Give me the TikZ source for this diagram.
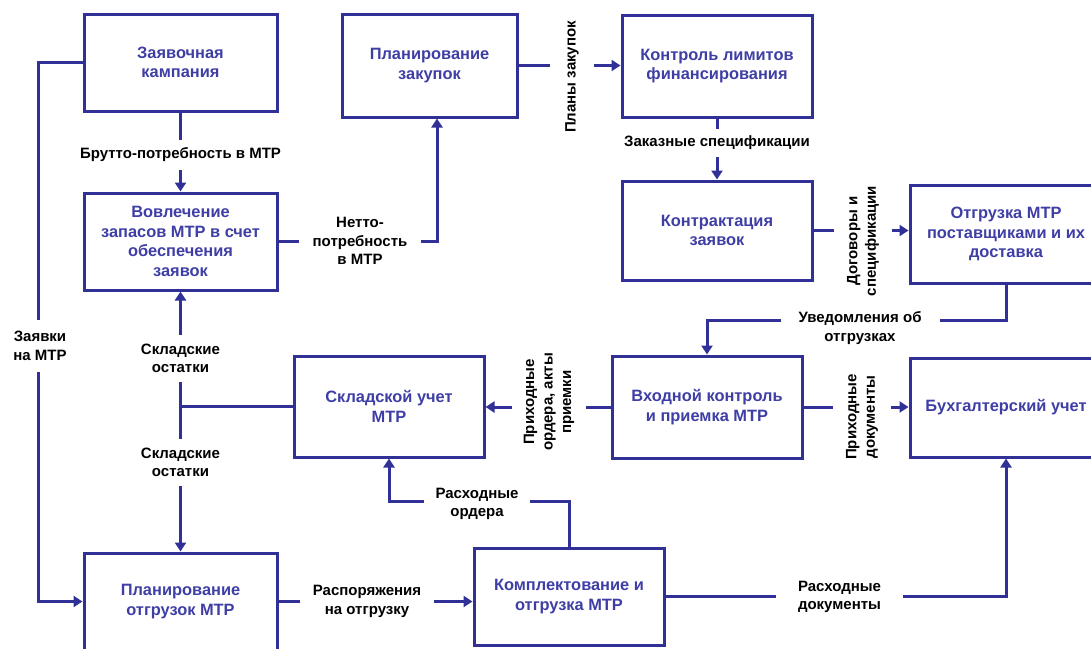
\documentclass[tikz,border=0pt]{standalone}
\usepackage{fontspec}
\setmainfont{Liberation Sans}
\usetikzlibrary{arrows.meta}
\definecolor{lineblue}{RGB}{48,48,150}
\definecolor{textblue}{RGB}{62,62,165}
\begin{document}
\begin{tikzpicture}[x=1pt,y=-1pt,
  box/.style={draw=lineblue, line width=3pt, rectangle, align=center, text=textblue,
    font=\fontsize{16.4}{19.5}\selectfont\bfseries, inner sep=0pt},
  lbl/.style={align=center, text=black, fill=white,
    font=\fontsize{15}{18.5}\selectfont\bfseries, inner sep=0pt},
  conn/.style={draw=lineblue, line width=3pt},
  arr/.style={conn, -{Triangle[width=11pt,length=9pt]}},
]
\useasboundingbox (0,0) rectangle (1091,648);
\clip (0,0) rectangle (1091,648);

% boxes
\node[box, minimum width=193pt, minimum height=97pt]  (zk) at (180.5,62.5)  {Заявочная\\кампания};
\node[box, minimum width=193pt, minimum height=97pt]  (vv) at (180.5,241.5) {Вовлечение\\запасов МТР в счет\\обеспечения\\заявок};
\node[box, minimum width=175pt, minimum height=103pt] (pz) at (429.5,65.5)  {Планирование\\закупок};
\node[box, minimum width=190pt, minimum height=102pt] (kl) at (717,66)      {Контроль лимитов\\финансирования};
\node[box, minimum width=190pt, minimum height=99pt]  (kt) at (717,230.5)   {Контрактация\\заявок};
\node[box, minimum width=192pt, minimum height=98pt]  (ot) at (1006,234)    {Отгрузка МТР\\поставщиками и их\\доставка};
\node[box, minimum width=190pt, minimum height=102pt] (bx) at (707,407)     {Входной контроль\\и приемка МТР};
\node[box, minimum width=192pt, minimum height=99pt]  (bu) at (1006,407.5)  {Бухгалтерский учет};
\node[box, minimum width=190pt, minimum height=101pt] (sk) at (389,406.5)   {Складской учет\\МТР};
\node[box, minimum width=190pt, minimum height=97pt]  (km) at (569,596.5)   {Комплектование и\\отгрузка МТР};
\node[box, minimum width=193pt, minimum height=97pt]  (po) at (180.5,601.5) {Планирование\\отгрузок МТР};

% connectors
\draw[arr] (zk.south) -- (vv.north);
\draw[arr] (zk.west) -- ++(-44,0) |- (po.west);
\draw[arr] (vv.east) -| ([xshift=7.5pt]pz.south);
\draw[arr] (pz.east) -- (pz.east -| kl.west);
\draw[arr] (kl.south) -- (kt.north);
\draw[arr] (kt.east) -- (kt.east -| ot.west);
\draw[arr] (ot.south) -- ++(0,36) -| (bx.north);
\draw[arr] (bx.west) -- (bx.west -| sk.east);
\draw[arr] (bx.east) -- (bx.east -| bu.west);
\draw[arr] (sk.west) -| (vv.south);
\draw[arr] (sk.west) -| (po.north);
\draw[arr] (km.north) -- ++(0,-45) -| (sk.south);
\draw[arr] (po.east) -- (po.east -| km.west);
\draw[arr] (km.east) -| (bu.south);

% labels
\node[lbl, inner ysep=8pt, inner xsep=4pt] (l1) at (180.5,155) {Брутто-потребность в МТР};
\node[lbl, inner ysep=11pt, inner xsep=2pt] (l2) at (40,346) {Заявки\\на МТР};
\node[lbl, inner xsep=14pt, inner ysep=2pt] (l3) at (360,241) {Нетто-\\потребность\\в МТР};
\node[lbl, rotate=90, inner ysep=15pt, inner xsep=2pt] (l4) at (572,77) {Планы закупок};
\node[lbl, inner ysep=7pt, inner xsep=2pt] (l5) at (717,143) {Заказные спецификации};
\node[lbl, rotate=90, inner ysep=13pt, inner xsep=2pt] (l6) at (863,241) {Договоры и\\спецификации};
\node[lbl, inner xsep=18pt, inner ysep=2pt] (l7) at (860,328) {Уведомления об\\отгрузках};
\node[lbl, rotate=90, inner ysep=12pt, inner xsep=2pt] (l8) at (549,402) {Приходные\\ордера, акты\\приемки};
\node[lbl, rotate=90, inner ysep=13pt, inner xsep=2pt] (l9) at (862,417) {Приходные\\документы};
\node[lbl, inner ysep=9pt, inner xsep=4pt] (l10) at (180.5,358.5) {Складские\\остатки};
\node[lbl, inner ysep=9pt, inner xsep=4pt] (l11) at (180.5,462.5) {Складские\\остатки};
\node[lbl, inner xsep=12pt, inner ysep=2pt] (l12) at (477,504) {Расходные\\ордера};
\node[lbl, inner xsep=13pt, inner ysep=2pt] (l13) at (367,601.5) {Распоряжения\\на отгрузку};
\node[lbl, inner xsep=22pt, inner ysep=2pt] (l14) at (839.5,597) {Расходные\\документы};
\end{tikzpicture}
\end{document}
